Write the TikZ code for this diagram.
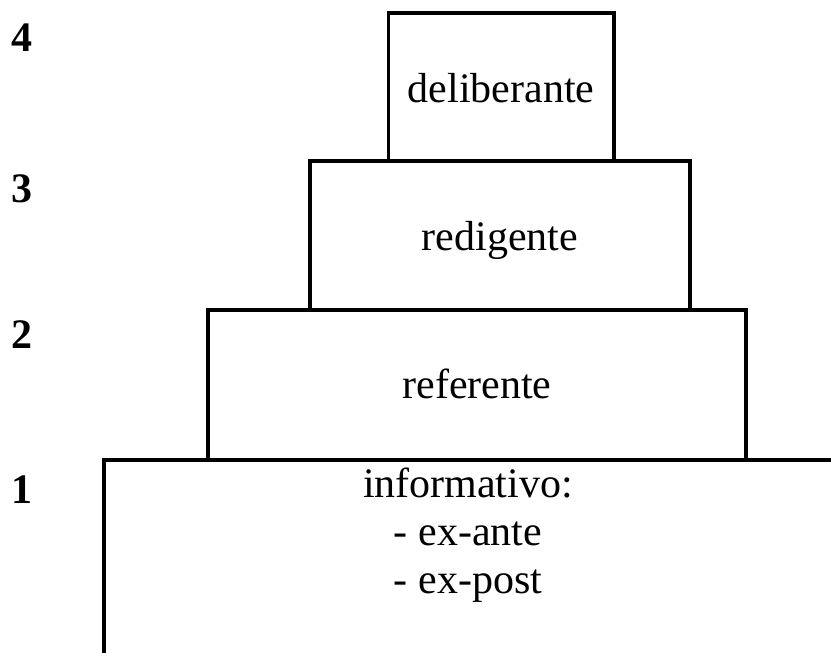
\documentclass[tikz,border=0pt]{standalone}
\usepackage{fontspec}
\setmainfont{Liberation Serif}
\begin{document}
\begin{tikzpicture}[x=1pt,y=-1pt,
  box/.style={draw, line width=3.2pt, inner sep=0pt, outer sep=0pt},
  lbl/.style={font=\fontsize{42}{48}\selectfont, anchor=base, inner sep=0pt},
  num/.style={font=\fontsize{42}{48}\selectfont\bfseries, anchor=base west, inner sep=0pt}]
\useasboundingbox (0,0) rectangle (831,653);
% boxes
\node[box, minimum width=225.5pt, minimum height=148pt] (d) at (501.25,87) {};
\node[box, minimum width=380pt, minimum height=149pt] (r) at (500,235.5) {};
\node[box, minimum width=538pt, minimum height=150pt] (f) at (477,385) {};
\coordinate (ibl) at (104,665);
\coordinate (itl) at (104,460);
\coordinate (itr) at (845,460);
\draw[line width=3.2pt] (ibl) -- (itl) -- (itr);
% texts
\node[lbl] (td) at (501,102) {deliberante};
\node[lbl] (tr) at (500,250) {redigente};
\node[lbl] (tf) at (477,398) {referente};
\node[lbl] (ti1) at (468,497) {informativo:};
\node[lbl] (ti2) at (468,545) {- ex-ante};
\node[lbl] (ti3) at (468,593) {- ex-post};
% level numbers
\node[num] (n4) at (11,52) {4};
\node[num] (n3) at (11,202) {3};
\node[num] (n2) at (11,348) {2};
\node[num] (n1) at (11,503) {1};
\end{tikzpicture}
\end{document}
